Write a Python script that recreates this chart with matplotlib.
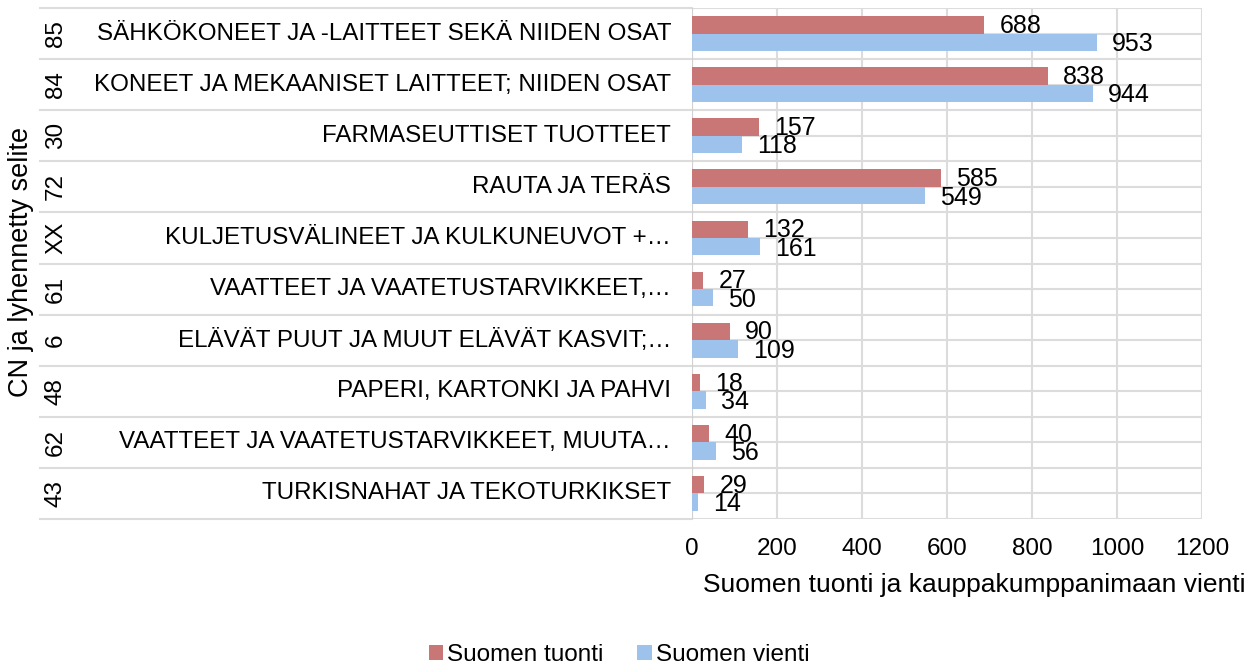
import matplotlib.pyplot as plt
from matplotlib.transforms import blended_transform_factory

plt.rcParams["font.family"] = ["Liberation Sans", "DejaVu Sans"]

codes = ["85", "84", "30", "72", "XX", "61", "6", "48", "62", "43"]
labels = [
    "SÄHKÖKONEET JA -LAITTEET SEKÄ NIIDEN OSAT",
    "KONEET JA MEKAANISET LAITTEET; NIIDEN OSAT",
    "FARMASEUTTISET TUOTTEET",
    "RAUTA JA TERÄS",
    "KULJETUSVÄLINEET JA KULKUNEUVOT +…",
    "VAATTEET JA VAATETUSTARVIKKEET,…",
    "ELÄVÄT PUUT JA MUUT ELÄVÄT KASVIT;…",
    "PAPERI, KARTONKI JA PAHVI",
    "VAATTEET JA VAATETUSTARVIKKEET, MUUTA…",
    "TURKISNAHAT JA TEKOTURKIKSET",
]
tuonti = [688, 838, 157, 585, 132, 27, 90, 18, 40, 29]
vienti = [953, 944, 118, 549, 161, 50, 109, 34, 56, 14]

RED = "#C87676"
BLUE = "#9DC3EC"
GRID = "#DCDCDC"

W, H = 1259, 666
fig = plt.figure(figsize=(W / 100, H / 100), dpi=100)
ax = fig.add_axes([692 / W, 1 - 519 / H, (1202 - 692) / W, (519 - 8) / H])

y = list(range(len(codes)))
bh = 0.34
ax.barh([i - bh / 2 for i in y], tuonti, height=bh, color=RED, label="Suomen tuonti", zorder=3)
ax.barh([i + bh / 2 for i in y], vienti, height=bh, color=BLUE, label="Suomen vienti", zorder=3)

for i in y:
    ax.annotate(str(tuonti[i]), (tuonti[i], i - bh / 2), xytext=(15, -1),
                textcoords="offset pixels", va="center", ha="left", fontsize=18, zorder=4)
    ax.annotate(str(vienti[i]), (vienti[i], i + bh / 2), xytext=(15, -2),
                textcoords="offset pixels", va="center", ha="left", fontsize=18, zorder=4)

ax.set_xlim(0, 1200)
ax.set_ylim(len(codes) - 0.5, -0.5)
ax.set_xticks(range(0, 1201, 200))
ax.set_yticks([])
ax.tick_params(axis="x", length=0, labelsize=17.5, pad=14)
for s in ax.spines.values():
    s.set_visible(False)
ax.xaxis.grid(True, color=GRID, lw=1.5, zorder=0)

# half-category horizontal lines
for k in range(2 * len(codes) + 1):
    ax.axhline(-0.5 + k * 0.5, color=GRID, lw=1.5, zorder=1)
ax.axvline(0, color="#D0D0D0", lw=1.5, zorder=2)

# left label table
tr = blended_transform_factory(fig.transFigure, ax.transData)
for k in range(len(codes) + 1):
    ax.plot([40 / W, 692 / W], [k - 0.5, k - 0.5], transform=tr, color=GRID,
            lw=1.5, clip_on=False, zorder=1)
for i in y:
    ax.text(56 / W, i, codes[i], transform=tr, rotation=90, ha="center", va="center",
            fontsize=17.5)
    ax.text(671 / W, i, labels[i], transform=tr, ha="right", va="center", fontsize=17.4)

fig.text(21 / W, 1 - 262 / H, "CN ja lyhennetty selite", rotation=90, ha="center",
         va="center", fontsize=19.5)
fig.text(974 / W, 1 - 585 / H, "Suomen tuonti ja kauppakumppanimaan vienti",
         ha="center", va="center", fontsize=19)

fig.legend(loc="center", bbox_to_anchor=(619 / W, 1 - 655 / H), ncol=2, frameon=False,
           fontsize=17.5, handlelength=0.6, handleheight=0.6, handletextpad=0.15,
           columnspacing=1.4)

fig.savefig("out.png", dpi=100)
